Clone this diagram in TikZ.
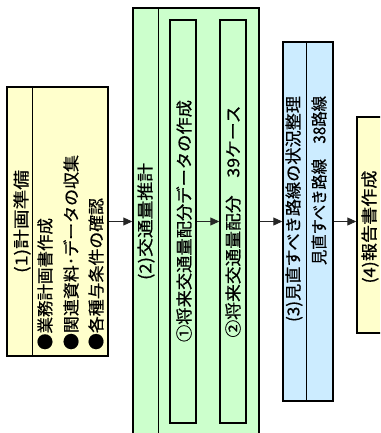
\documentclass[tikz,border=0pt]{standalone}
\usepackage{fontspec}
\setmainfont{Noto Sans CJK JP}
\newfontfamily\jpfont{Noto Sans CJK JP}[FakeBold=0.6]
\usetikzlibrary{arrows.meta}
\definecolor{cy}{HTML}{FFFFCC}
\definecolor{cg}{HTML}{CCFFCC}
\definecolor{cb}{HTML}{CCECFF}
\newcommand\fitlen[2]{\resizebox{#1pt}{\height}{#2}}
\begin{document}
\begin{tikzpicture}[x=1pt,y=-1pt,
  box/.style={draw=black,line width=1.4pt,inner sep=0pt},
  tx/.style={rotate=90,inner sep=0pt,font=\jpfont\fontsize{16.5}{16.5}\selectfont},
  arr/.style={-{Triangle[length=9pt,width=8pt]},line width=0.9pt,draw=black!85}]
\useasboundingbox (0,0) rectangle (380,433);
\clip (0,0) rectangle (380,433);
% boxes
\node[box,fill=cy,minimum width=101pt,minimum height=269pt] (b1) at (57.5,221.5) {};
\node[box,fill=cg,minimum width=126pt,minimum height=427pt] (b2) at (196,221.5) {};
\node[box,fill=cg,minimum width=26pt,minimum height=403pt] (ba) at (183,221.5) {};
\node[box,fill=cg,minimum width=26pt,minimum height=403pt] (bb) at (233,221.5) {};
\node[box,fill=cb,minimum width=50pt,minimum height=359pt] (b3) at (308,221.5) {};
\node[box,fill=cy,minimum width=50pt,minimum height=216pt] (b4) at (382,225) {};
% dividers
\draw[line width=1.4pt] ([xshift=26pt]b1.north west) -- ([xshift=26pt]b1.south west);
\draw[line width=1.4pt] ([xshift=26pt]b2.north west) -- ([xshift=26pt]b2.south west);
\draw[line width=1.4pt] ([xshift=24pt]b3.north west) -- ([xshift=24pt]b3.south west);
% arrows
\draw[arr] (b1.east) -- (b1.east -| b2.west);
\draw[arr] (ba.east) -- (bb.west);
\draw[arr] (b3.west -| b2.east) -- (b3.west);
\draw[arr] (b3.east) -- (b3.east -| b4.west);
% texts
\node[tx] (t1) at (22,221.5) {\fitlen{103}{(1)計画準備}};
\node[tx] (t2) at (45,284) {\fitlen{132}{●業務計画書作成}};
\node[tx] (t3) at (71,252.5) {\fitlen{195}{●関連資料･データの収集}};
\node[tx] (t4) at (96,274) {\fitlen{152}{●各種与条件の確認}};
\node[tx] (t5) at (146,221.5) {\fitlen{117}{(2)交通量推計}};
\node[tx] (t6) at (184,221) {\fitlen{242}{①将来交通量配分データの作成}};
\node[tx] (t7) at (233,221.5) {\fitlen{232}{②将来交通量配分　39ケース}};
\node[tx] (t8) at (294,209) {\fitlen{226}{(3)見直すべき路線の状況整理}};
\node[tx] (t9) at (319,180.5) {\fitlen{169}{見直すべき路線　38路線}};
\node[tx] (t10) at (370,227) {\fitlen{113}{(4)報告書作成}};
\end{tikzpicture}
\end{document}
